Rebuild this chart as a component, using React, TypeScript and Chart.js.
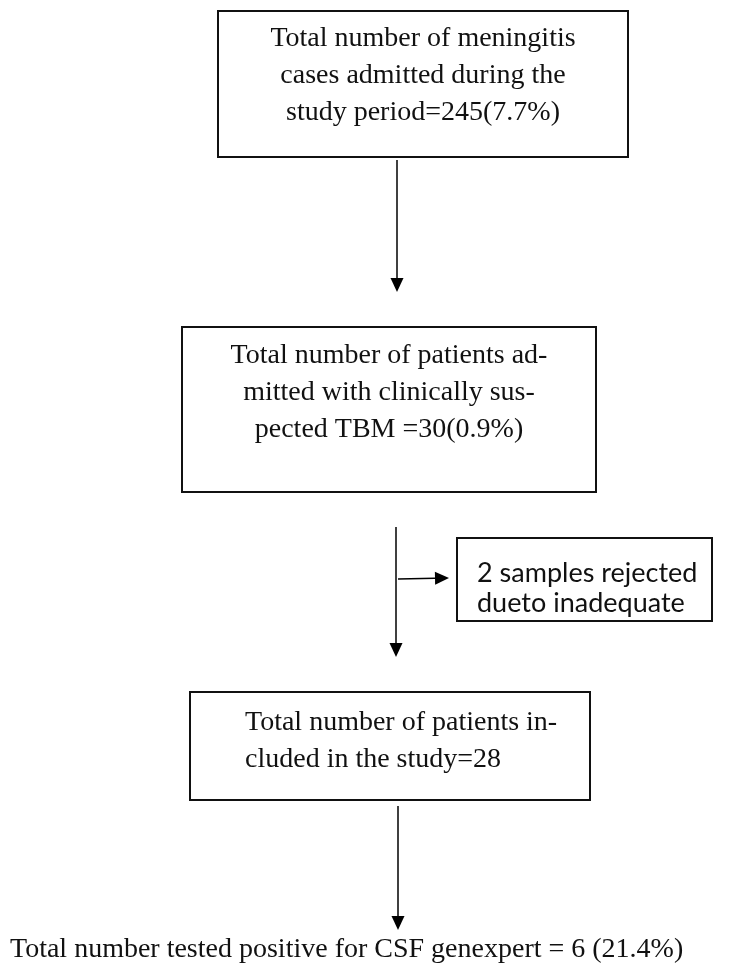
import React, { useEffect, useRef } from "react";
import { Chart, registerables } from "chart.js";

Chart.register(...registerables);

// ---- content (text of each flow step) ----
const admittedLines = ["Total number of meningitis", "cases admitted during the", "study period=245(7.7%)"];
const suspectedLines = ["Total number of patients ad-", "mitted with clinically sus-", "pected TBM =30(0.9%)"];
const rejectedLines = ["2 samples rejected", "dueto inadequate"];
const includedLines = ["Total number of patients in-", "cluded in the study=28"];
const resultLines = ["Total number tested positive for CSF genexpert = 6 (21.4%)"];

// ---- layout (in chart scale units, separate from the content) ----
const W = 743;
const H = 965;
const SERIF = '28px "Liberation Serif", "Times New Roman", serif';
const SANS = '27px Lato, "Open Sans", sans-serif';

type Box = { x0: number; y0: number; x1: number; y1: number; lines: string[]; align: "center" | "left"; tx: number; ty: number; lh: number; font: string };

const boxes: Box[] = [
  { x0: 218, y0: 11, x1: 628, y1: 157, lines: admittedLines, align: "center", tx: 423, ty: 46, lh: 37, font: SERIF },
  { x0: 182, y0: 327, x1: 596, y1: 492, lines: suspectedLines, align: "center", tx: 389, ty: 363, lh: 37, font: SERIF },
  { x0: 457, y0: 538, x1: 712, y1: 621, lines: rejectedLines, align: "left", tx: 477, ty: 582, lh: 30, font: SANS },
  { x0: 190, y0: 692, x1: 590, y1: 800, lines: includedLines, align: "left", tx: 245, ty: 730, lh: 37, font: SERIF },
];

const arrows = [
  { x0: 397, y0: 160, x1: 397, y1: 292 },
  { x0: 396, y0: 527, x1: 396, y1: 657 },
  { x0: 398, y0: 806, x1: 398, y1: 930 },
  { x0: 398, y0: 579, x1: 449, y1: 578 },
];

const resultText = { x: 10, y: 957, font: SERIF };

const flowPlugin = {
  id: "flow",
  afterDraw(chart: any) {
    const ctx: CanvasRenderingContext2D = chart.ctx;
    const xs = chart.scales.x;
    const ys = chart.scales.y;
    const px = (v: number) => xs.getPixelForValue(v);
    const py = (v: number) => ys.getPixelForValue(v);
    ctx.save();
    ctx.fillStyle = "#ffffff";
    ctx.fillRect(0, 0, chart.width, chart.height);

    // boxes
    ctx.strokeStyle = "#111111";
    ctx.lineWidth = 2;
    boxes.forEach((b) => {
      ctx.strokeRect(px(b.x0), py(b.y0), px(b.x1) - px(b.x0), py(b.y1) - py(b.y0));
      ctx.fillStyle = "#111111";
      ctx.font = b.font;
      ctx.textAlign = b.align;
      ctx.textBaseline = "alphabetic";
      b.lines.forEach((t, i) => ctx.fillText(t, px(b.tx), py(b.ty + i * b.lh)));
    });

    // arrows
    ctx.lineWidth = 1.5;
    ctx.fillStyle = "#000000";
    ctx.strokeStyle = "#000000";
    arrows.forEach((a) => {
      const x0 = px(a.x0), y0 = py(a.y0), x1 = px(a.x1), y1 = py(a.y1);
      const ang = Math.atan2(y1 - y0, x1 - x0);
      const hl = 14, hw = 6.5;
      const bx = x1 - hl * Math.cos(ang), by = y1 - hl * Math.sin(ang);
      ctx.beginPath();
      ctx.moveTo(x0, y0);
      ctx.lineTo(bx, by);
      ctx.stroke();
      ctx.beginPath();
      ctx.moveTo(x1, y1);
      ctx.lineTo(bx + hw * Math.sin(ang), by - hw * Math.cos(ang));
      ctx.lineTo(bx - hw * Math.sin(ang), by + hw * Math.cos(ang));
      ctx.closePath();
      ctx.fill();
    });

    // final result
    ctx.font = resultText.font;
    ctx.textAlign = "left";
    ctx.fillStyle = "#111111";
    resultLines.forEach((t, i) => ctx.fillText(t, px(resultText.x), py(resultText.y + i * 37)));
    ctx.restore();
  },
};

export default function App() {
  const ref = useRef<HTMLCanvasElement | null>(null);
  useEffect(() => {
    if (!ref.current) return;
    const chart = new Chart(ref.current, {
      type: "scatter",
      data: { datasets: [{ data: [], pointRadius: 0 }] },
      options: {
        animation: false,
        responsive: false,
        maintainAspectRatio: false,
        layout: { padding: 0 },
        plugins: { legend: { display: false }, tooltip: { enabled: false }, title: { display: false } },
        scales: {
          x: { type: "linear", min: 0, max: W, display: false },
          y: { type: "linear", min: 0, max: H, reverse: true, display: false },
        },
      },
      plugins: [flowPlugin],
    });
    return () => chart.destroy();
  }, []);
  return (
    <div style={{ position: "absolute", left: 0, top: 0, width: W, height: H, background: "#fff" }}>
      <canvas ref={ref} width={W} height={H} style={{ display: "block", width: W, height: H }} />
    </div>
  );
}
